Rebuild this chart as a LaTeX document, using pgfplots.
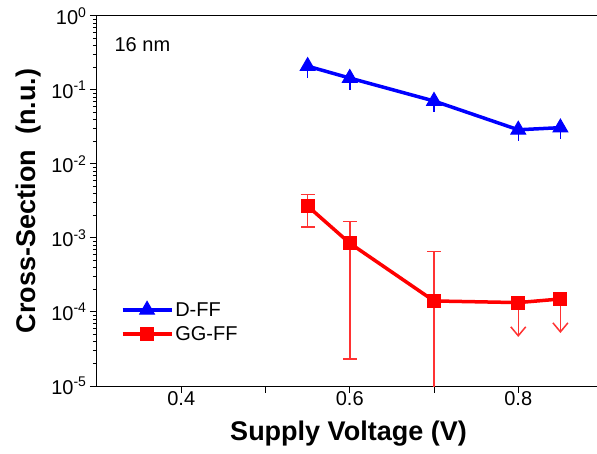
\documentclass[border=0pt]{standalone}
\usepackage{pgfplots}
\pgfplotsset{compat=1.18}
\usepackage{fontspec}
\setmainfont{Liberation Sans}
\usetikzlibrary{calc,arrows.meta}
\definecolor{ebred}{RGB}{255,50,50}
\begin{document}
\begin{tikzpicture}
\begin{axis}[
  scale only axis, width=503pt, height=370pt,
  xmin=0.3, xmax=0.8970,
  ymode=log, ymin=1e-5, ymax=1,
  axis line style={line width=1pt},
  xtick pos=left,
  tick align=outside,
  major tick length=7pt, minor tick length=4pt,
  every tick/.append style={black, line width=1pt},
  xtick={0.4,0.6,0.8},
  xticklabels={0.4,0.6,0.8},
  extra x ticks={0.5,0.7},
  extra x tick labels={},
  ytick={1e-5,1e-4,1e-3,1e-2,1e-1,1},
  yticklabels={10\textsuperscript{-5},10\textsuperscript{-4},10\textsuperscript{-3},10\textsuperscript{-2},10\textsuperscript{-1},10\textsuperscript{0}},
  minor ytick={2e-5,3e-5,4e-5,5e-5,6e-5,7e-5,8e-5,9e-5,
    2e-4,3e-4,4e-4,5e-4,6e-4,7e-4,8e-4,9e-4,
    2e-3,3e-3,4e-3,5e-3,6e-3,7e-3,8e-3,9e-3,
    2e-2,3e-2,4e-2,5e-2,6e-2,7e-2,8e-2,9e-2,
    0.2,0.3,0.4,0.5,0.6,0.7,0.8,0.9},
  /pgf/number format/assume math mode=true,
  tick label style={font=\fontsize{20}{24}\selectfont},
  xticklabel style={yshift=5pt},
  label style={font=\fontsize{27}{32}\selectfont\bfseries},
  xlabel={Supply Voltage (V)},
  ylabel={Cross-Section\ \ (n.u.)},
  xlabel style={yshift=6pt},
  ylabel style={yshift=3pt},
  legend style={at={(0.045,0.235)}, anchor=north west, draw=none, fill=none,
    font=\fontsize{20}{24}\selectfont, row sep=5pt, inner sep=1pt},
  legend cell align=left,
  legend image code/.code={\draw[mark repeat=2,mark phase=2,#1] plot coordinates {(0cm,0cm) (0.86cm,0cm) (1.72cm,0cm)};},
]
\coordinate (sw) at (rel axis cs:0,0);
\coordinate (ne) at (rel axis cs:1,1);

\addplot[blue, line width=3.5pt, mark=triangle*, mark size=8.5pt,
  mark options={solid, line width=1pt},
  error bars/.cd, y dir=both, y fixed relative=0.3, error mark=none,
  error bar style={blue, line width=1.5pt}]
  table {
x y
0.55 0.21
0.60 0.145
0.70 0.071
0.80 0.029
0.85 0.031
};
\addlegendentry{D-FF}

\addplot[red, line width=3.5pt, mark=square*, mark size=6.5pt,
  mark options={solid, line width=1pt},
  error bars/.cd, y dir=both, y explicit, error mark=-,
  error mark options={ebred, line width=1.5pt, mark size=7pt, rotate=90},
  error bar style={ebred, line width=1.5pt}]
  table[y error plus=ep, y error minus=em] {
x y ep em
0.55 0.0027 0.0012 0.0013
0.60 0.00085 0.00081 0.000827
0.70 0.000141 0.000519 0.000136
0.80 0.000134 0 0
0.85 0.000150 0 0
};
\addlegendentry{GG-FF}

\addplot[forget plot, draw=none, mark=none,
  error bars/.cd, y dir=minus, y explicit, error mark=none,
  error bar style={ebred, line width=1.5pt, -{Straight Barb[length=9pt,width=15pt]}}]
  table[y error minus=em] {
x y em
0.80 0.000134 0.000088
0.85 0.000150 0.000098
};

\node[anchor=west, font=\fontsize{20}{24}\selectfont] at (rel axis cs:0.028,0.924) {16 nm};
\end{axis}
\pgfresetboundingbox
\path[use as bounding box] ($(sw)+(-97pt,-68pt)$) rectangle ($(sw)+(500pt,386pt)$);
\end{tikzpicture}
\end{document}
